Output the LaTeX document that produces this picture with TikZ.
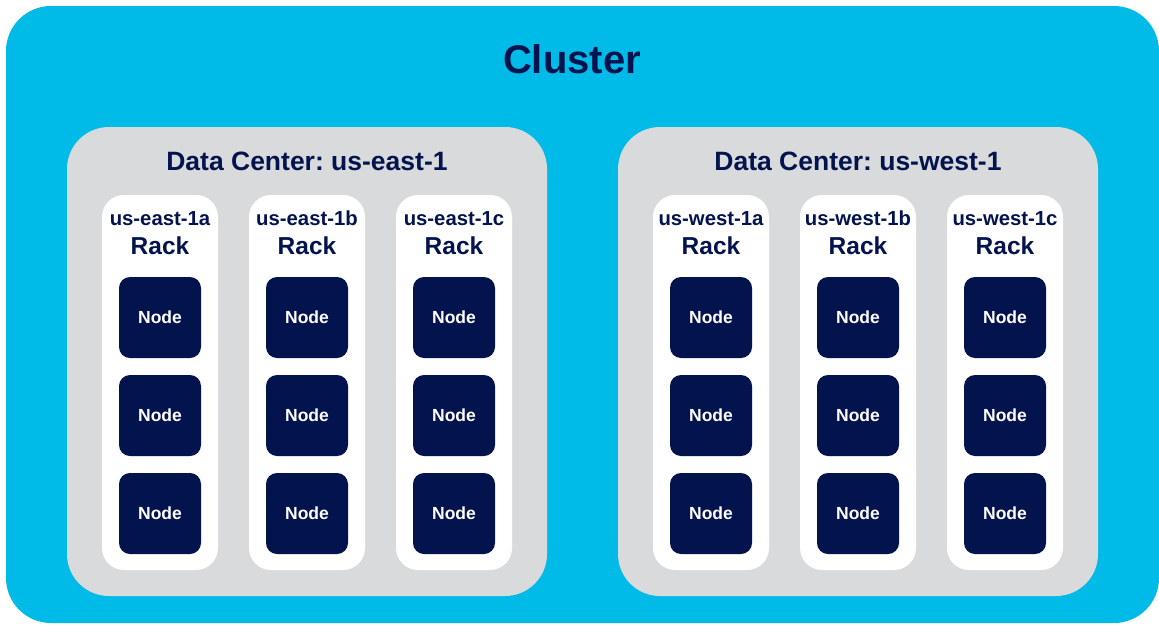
\documentclass[tikz,border=0pt]{standalone}
\usepackage{fontspec}
\setmainfont{Liberation Sans}
\frenchspacing
\definecolor{clusterblue}{RGB}{0,187,231}
\definecolor{dcgray}{RGB}{217,218,219}
\definecolor{navy}{RGB}{3,19,78}
\tikzset{
  panel/.style={inner sep=0pt, outer sep=0pt, draw=none},
  clusterbox/.style={panel, fill=clusterblue, rounded corners=45pt,
    minimum width=1153pt, minimum height=617pt},
  dcbox/.style={panel, fill=dcgray, rounded corners=42pt,
    minimum width=480pt, minimum height=469pt},
  rackbox/.style={panel, fill=white, rounded corners=22pt,
    minimum width=116pt, minimum height=375pt},
  nodebox/.style={panel, fill=navy, rounded corners=11pt,
    minimum width=82pt, minimum height=81pt, text=white,
    font=\fontsize{17.5}{20}\selectfont\bfseries},
  titletext/.style={anchor=base, inner sep=0pt, text=navy,
    font=\fontsize{40}{44}\selectfont\bfseries},
  dctext/.style={anchor=base, inner sep=0pt, text=navy,
    font=\fontsize{26.5}{30}\selectfont\bfseries},
  zonetext/.style={anchor=base, inner sep=0pt, text=navy,
    font=\fontsize{20.3}{23}\selectfont\bfseries},
  racktext/.style={anchor=base, inner sep=0pt, text=navy,
    font=\fontsize{24.5}{28}\selectfont\bfseries},
}
\begin{document}
\begin{tikzpicture}[x=1pt,y=-1pt]
\useasboundingbox (0,0) rectangle (1159,624);

% cluster background and title
\node[clusterbox] (cluster) at (582.5,314.5) {};
\node[titletext] (clustertitle) at (572,73) {Cluster};

% two data centers, each with three racks of three nodes
\foreach \dc/\dcx/\region in {east/307/us-east-1, west/858/us-west-1} {
  \node[dcbox] (dc-\dc) at (\dcx,361.5) {};
  \node[dctext] (dc-\dc-label) at (\dcx,170) {Data Center: \region};
  \foreach \z/\off in {a/-147, b/0, c/147} {
    \pgfmathsetmacro{\rx}{\dcx+\off}
    \node[rackbox] (rack-\dc-\z) at (\rx,382.5) {};
    \node[zonetext] (zone-\dc-\z) at (\rx,225) {\region\z};
    \node[racktext] (racklabel-\dc-\z) at (\rx,254) {Rack};
    \foreach \r/\ry in {1/317.5, 2/415.5, 3/513.5} {
      \node[nodebox] (node-\dc-\z-\r) at (\rx,\ry) {Node};
    }
  }
}
\end{tikzpicture}
\end{document}
